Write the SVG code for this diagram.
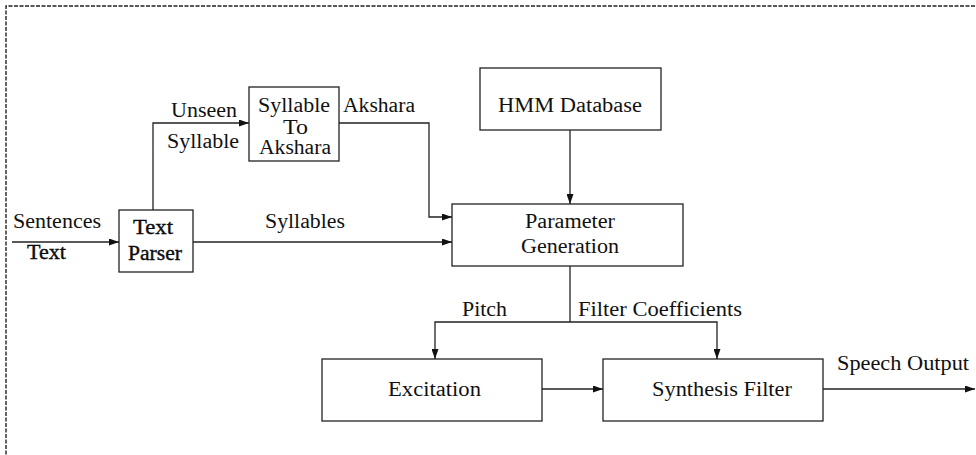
<svg xmlns="http://www.w3.org/2000/svg" width="976" height="455" viewBox="0 0 976 455">
  <style>
    .box { fill: #fff; stroke: #222; stroke-width: 1.3; }
    .wire { fill: none; stroke: #222; stroke-width: 1.3; }
    .lbl { font-size: 20px; fill: #111; }
    .heavy { stroke: #000; stroke-width: 0.35; }
  </style>
  <defs>
    <marker id="arrow" markerWidth="11" markerHeight="7" refX="10" refY="3.5" orient="auto" markerUnits="userSpaceOnUse">
      <path d="M0,0 L10,3.5 L0,7 z" fill="#111"/>
    </marker>
  </defs>

  <!-- dashed frame -->
  <path d="M6,460 L6,6 L980,6" fill="none" stroke="#222" stroke-width="1.4" stroke-dasharray="4 1.5"/>

  <g font-family="Liberation Serif, DejaVu Serif, Noto Serif, Times New Roman, Times, serif">
  <!-- connectors -->
  <g id="connectors">
    <path class="wire" d="M12,242 L119,242" marker-end="url(#arrow)"/>
    <path class="wire" d="M153,210 L153,123 L249,123" marker-end="url(#arrow)"/>
    <path class="wire" d="M339,123 L429,123 L429,217 L452,217" marker-end="url(#arrow)"/>
    <path class="wire" d="M193,242 L452,242" marker-end="url(#arrow)"/>
    <path class="wire" d="M570,130 L570,204" marker-end="url(#arrow)"/>
    <path class="wire" d="M570,266 L570,322"/>
    <path class="wire" d="M570,322 L435,322 L435,359" marker-end="url(#arrow)"/>
    <path class="wire" d="M570,322 L717,322 L717,359" marker-end="url(#arrow)"/>
    <path class="wire" d="M542,389 L603,389" marker-end="url(#arrow)"/>
    <path class="wire" d="M823,389 L975,389" marker-end="url(#arrow)"/>

    <text class="lbl" x="13" y="228" textLength="88" lengthAdjust="spacingAndGlyphs">Sentences</text>
    <text class="lbl heavy" x="27" y="259" textLength="39" lengthAdjust="spacingAndGlyphs">Text</text>
    <text class="lbl" x="171" y="117" textLength="66" lengthAdjust="spacingAndGlyphs">Unseen</text>
    <text class="lbl" x="167" y="148" textLength="72" lengthAdjust="spacingAndGlyphs">Syllable</text>
    <text class="lbl" x="343" y="112" textLength="72" lengthAdjust="spacingAndGlyphs">Akshara</text>
    <text class="lbl" x="265" y="228" textLength="80" lengthAdjust="spacingAndGlyphs">Syllables</text>
    <text class="lbl" x="462" y="316" textLength="45" lengthAdjust="spacingAndGlyphs">Pitch</text>
    <text class="lbl" x="578" y="316" textLength="164" lengthAdjust="spacingAndGlyphs">Filter Coefficients</text>
    <text class="lbl" x="837" y="370" textLength="132" lengthAdjust="spacingAndGlyphs">Speech Output</text>
  </g>

  <g id="text-parser">
    <rect class="box" x="119" y="210" width="74" height="62"/>
    <text class="lbl heavy" x="133" y="234" textLength="40" lengthAdjust="spacingAndGlyphs">Text</text>
    <text class="lbl heavy" x="128" y="260" textLength="54" lengthAdjust="spacingAndGlyphs">Parser</text>
  </g>

  <g id="syllable-to-akshara">
    <rect class="box" x="249" y="87" width="90" height="74"/>
    <text class="lbl" x="258" y="112" textLength="72" lengthAdjust="spacingAndGlyphs">Syllable</text>
    <text class="lbl" x="283" y="134" textLength="25" lengthAdjust="spacingAndGlyphs">To</text>
    <text class="lbl" x="259" y="154" textLength="72" lengthAdjust="spacingAndGlyphs">Akshara</text>
  </g>

  <g id="hmm-database">
    <rect class="box" x="480" y="68" width="181" height="62"/>
    <text class="lbl" x="498" y="112" textLength="144" lengthAdjust="spacingAndGlyphs">HMM Database</text>
  </g>

  <g id="parameter-generation">
    <rect class="box" x="452" y="204" width="231" height="62"/>
    <text class="lbl" x="525" y="228" textLength="90" lengthAdjust="spacingAndGlyphs">Parameter</text>
    <text class="lbl" x="521" y="253" textLength="98" lengthAdjust="spacingAndGlyphs">Generation</text>
  </g>

  <g id="excitation">
    <rect class="box" x="322" y="359" width="220" height="62"/>
    <text class="lbl" x="388" y="396" textLength="93" lengthAdjust="spacingAndGlyphs">Excitation</text>
  </g>

  <g id="synthesis-filter">
    <rect class="box" x="603" y="359" width="220" height="62"/>
    <text class="lbl" x="652" y="396" textLength="140" lengthAdjust="spacingAndGlyphs">Synthesis Filter</text>
  </g>
  </g>
</svg>
